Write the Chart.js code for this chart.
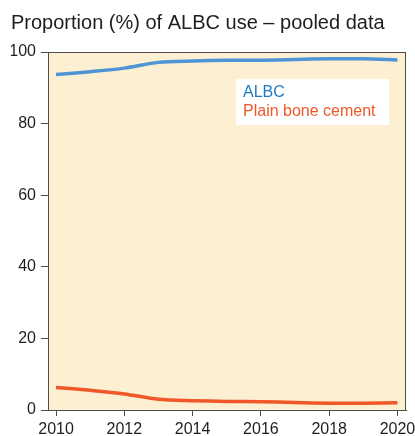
<!DOCTYPE html>
<html>
<head>
<meta charset="utf-8">
<script src="https://cdn.jsdelivr.net/npm/chart.js@4/dist/chart.umd.min.js"></script>
<style>
  html, body { margin: 0; padding: 0; background: #fff; }
  #wrap { width: 415px; height: 436px; }
</style>
</head>
<body>
<div id="wrap"><canvas id="albcChart"></canvas></div>
<script>
// 数据
const years = [2010, 2011, 2012, 2013, 2014, 2015, 2016, 2017, 2018, 2019, 2020];
const albcValues = [93.7, 94.5, 95.5, 97.1, 97.5, 97.7, 97.7, 97.9, 98.1, 98.1, 97.8];
const plainValues = [6.3, 5.5, 4.5, 3.0, 2.6, 2.4, 2.3, 2.1, 1.9, 1.9, 2.0];
const xTicks = [2010, 2012, 2014, 2016, 2018, 2020];
const yTicks = [0, 20, 40, 60, 80, 100];

const TEXT = '#1e1e1e';
const AXIS = '#4d4d4d';
const FONT = 'Liberation Sans, Arial, sans-serif';

// 背景和边框
const plotBox = {
    id: 'plotBox',
    beforeDraw(chart) {
        const { ctx, chartArea: a } = chart;
        ctx.save();
        ctx.fillStyle = '#fdefd2';
        ctx.fillRect(a.left, a.top, a.right - a.left, a.bottom - a.top);
        ctx.restore();
    },
    afterDraw(chart) {
        const { ctx, chartArea: a } = chart;
        ctx.save();
        ctx.strokeStyle = AXIS;
        ctx.lineWidth = 1;
        ctx.strokeRect(a.left + 0.5, a.top + 0.5, a.right - a.left - 1, a.bottom - a.top);
        ctx.restore();
    }
};

// 图例（画在图内的白框）
const boxLegend = {
    id: 'boxLegend',
    afterDraw(chart) {
        const { ctx } = chart;
        ctx.save();
        ctx.fillStyle = '#fff';
        ctx.fillRect(236, 79, 153, 46);
        ctx.font = '16px ' + FONT;
        ctx.textBaseline = 'middle';
        chart.data.datasets.forEach((ds, i) => {
            ctx.fillStyle = ds.textColor;
            ctx.fillText(ds.label, 243, 93 + i * 19);
        });
        ctx.restore();
    }
};

new Chart(document.getElementById('albcChart'), {
    type: 'line',
    data: {
        datasets: [
            { label: 'ALBC', data: years.map((y, i) => ({ x: y, y: albcValues[i] })),
              borderColor: '#4f94d4', textColor: '#1f7bc4', borderWidth: 3.5, tension: 0.3, pointRadius: 0 },
            { label: 'Plain bone cement', data: years.map((y, i) => ({ x: y, y: plainValues[i] })),
              borderColor: '#f0582a', textColor: '#f0582a', borderWidth: 3.5, tension: 0.3, pointRadius: 0 }
        ]
    },
    options: {
        responsive: true,
        maintainAspectRatio: false,
        animation: false,
        layout: { padding: { left: 11, right: 9, top: 0, bottom: 0 } },
        scales: {
            x: {
                type: 'linear',
                min: 2009.765,
                max: 2020.25,
                afterBuildTicks: s => { s.ticks = xTicks.map(v => ({ value: v })); },
                // 让 2020 标签在右边被截掉，不挤压绘图区
                afterFit: s => { s.height = 26; s.paddingLeft = 0; s.paddingRight = 0; },
                ticks: { color: TEXT, font: { size: 16, family: FONT }, padding: 4, maxRotation: 0, autoSkip: false,
                         callback: v => String(v) },
                grid: { drawOnChartArea: false, color: AXIS, tickLength: 6 },
                border: { color: AXIS }
            },
            y: {
                min: 0,
                max: 100,
                afterBuildTicks: s => { s.ticks = yTicks.map(v => ({ value: v })); },
                afterFit: s => { s.width = 37; },
                ticks: { color: TEXT, font: { size: 16, family: FONT }, padding: 5 },
                grid: { drawOnChartArea: false, color: AXIS, tickLength: 7 },
                border: { color: AXIS }
            }
        },
        plugins: {
            legend: { display: false },
            tooltip: { enabled: false },
            title: {
                display: true,
                text: 'Proportion (%) of ALBC use – pooled data',
                align: 'start',
                color: TEXT,
                font: { size: 20, family: FONT, weight: 'normal' },
                padding: { top: 11, bottom: 17 }
            }
        }
    },
    plugins: [plotBox, boxLegend]
});
</script>
</body>
</html>
